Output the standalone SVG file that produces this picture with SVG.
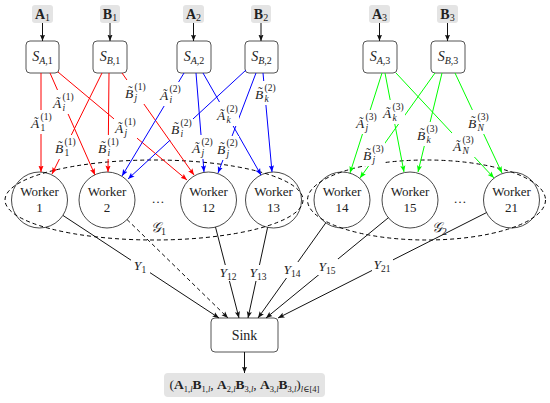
<svg xmlns="http://www.w3.org/2000/svg" width="550" height="403" viewBox="0 0 550 403">
<style>
text{font-family:"Liberation Serif","DejaVu Serif",serif;fill:#222}
.src rect{fill:#e4e4e4;stroke:none}
.src text{font-size:14px;text-anchor:middle}
.enc rect{fill:#fff;stroke:#555;stroke-width:1}
.enc text{font-size:14px;text-anchor:middle}
.wk circle{fill:none;stroke:#333;stroke-width:0.9}
.wk text{font-size:13px;text-anchor:middle}
.grp{fill:none;stroke:#000;stroke-width:1;stroke-dasharray:4 3}
.k{stroke:#111;stroke-width:1;fill:none;marker-end:url(#mk)}
.r{stroke:#f00;stroke-width:1;fill:none;marker-end:url(#mr)}
.b{stroke:#00f;stroke-width:1;fill:none;marker-end:url(#mb)}
.g{stroke:#0f0;stroke-width:1;fill:none;marker-end:url(#mg)}
.lab rect{fill:#fff}
.lab .m{font-size:13.5px;font-style:italic}
.lab .s{font-size:9.5px}
.i{font-style:italic}
.ylab{font-size:13.5px;text-anchor:middle}
</style>
<defs>
<marker id="mk" viewBox="0 0 10 10" refX="10" refY="5" markerWidth="6.5" markerHeight="6.5" orient="auto" markerUnits="userSpaceOnUse"><path d="M0,1 L10,5 L0,9 L2,5 z" fill="#111"/></marker>
<marker id="mr" viewBox="0 0 10 10" refX="10" refY="5" markerWidth="6.5" markerHeight="6.5" orient="auto" markerUnits="userSpaceOnUse"><path d="M0,1 L10,5 L0,9 L2,5 z" fill="#f00"/></marker>
<marker id="mb" viewBox="0 0 10 10" refX="10" refY="5" markerWidth="6.5" markerHeight="6.5" orient="auto" markerUnits="userSpaceOnUse"><path d="M0,1 L10,5 L0,9 L2,5 z" fill="#00f"/></marker>
<marker id="mg" viewBox="0 0 10 10" refX="10" refY="5" markerWidth="6.5" markerHeight="6.5" orient="auto" markerUnits="userSpaceOnUse"><path d="M0,1 L10,5 L0,9 L2,5 z" fill="#0f0"/></marker>
</defs>

<!-- sources -->
<g id="src-A1" class="src"><rect x="32" y="5" width="21" height="18" rx="3"/><text x="42.5" y="18.5"><tspan font-weight="bold">A</tspan><tspan font-size="10" dy="2">1</tspan></text></g>
<g id="src-B1" class="src"><rect x="100" y="5" width="20" height="18" rx="3"/><text x="110" y="18.5"><tspan font-weight="bold">B</tspan><tspan font-size="10" dy="2">1</tspan></text></g>
<g id="src-A2" class="src"><rect x="183" y="5" width="21" height="18" rx="3"/><text x="193.5" y="18.5"><tspan font-weight="bold">A</tspan><tspan font-size="10" dy="2">2</tspan></text></g>
<g id="src-B2" class="src"><rect x="251" y="5" width="20" height="18" rx="3"/><text x="261" y="18.5"><tspan font-weight="bold">B</tspan><tspan font-size="10" dy="2">2</tspan></text></g>
<g id="src-A3" class="src"><rect x="369" y="5" width="21" height="18" rx="3"/><text x="379.5" y="18.5"><tspan font-weight="bold">A</tspan><tspan font-size="10" dy="2">3</tspan></text></g>
<g id="src-B3" class="src"><rect x="437" y="5" width="21" height="18" rx="3"/><text x="447.5" y="18.5"><tspan font-weight="bold">B</tspan><tspan font-size="10" dy="2">3</tspan></text></g>

<!-- encoders -->
<g id="enc-SA1" class="enc"><rect x="26" y="41" width="33" height="32" rx="4"/><text x="42.5" y="61"><tspan class="i">S</tspan><tspan font-size="10" dy="3"><tspan class="i">A</tspan>,1</tspan></text></g>
<g id="enc-SB1" class="enc"><rect x="93" y="41" width="34" height="32" rx="4"/><text x="110" y="61"><tspan class="i">S</tspan><tspan font-size="10" dy="3"><tspan class="i">B</tspan>,1</tspan></text></g>
<g id="enc-SA2" class="enc"><rect x="177" y="41" width="34" height="32" rx="4"/><text x="194" y="61"><tspan class="i">S</tspan><tspan font-size="10" dy="3"><tspan class="i">A</tspan>,2</tspan></text></g>
<g id="enc-SB2" class="enc"><rect x="245" y="41" width="33" height="32" rx="4"/><text x="261.5" y="61"><tspan class="i">S</tspan><tspan font-size="10" dy="3"><tspan class="i">B</tspan>,2</tspan></text></g>
<g id="enc-SA3" class="enc"><rect x="363" y="41" width="34" height="32" rx="4"/><text x="380" y="61"><tspan class="i">S</tspan><tspan font-size="10" dy="3"><tspan class="i">A</tspan>,3</tspan></text></g>
<g id="enc-SB3" class="enc"><rect x="431" y="41" width="34" height="32" rx="4"/><text x="448" y="61"><tspan class="i">S</tspan><tspan font-size="10" dy="3"><tspan class="i">B</tspan>,3</tspan></text></g>

<!-- workers -->
<g id="w1" class="wk"><circle cx="39.5" cy="200" r="28"/><text x="39.5" y="196">Worker</text><text x="39.5" y="211.5">1</text></g>
<g id="w2" class="wk"><circle cx="107" cy="200" r="28"/><text x="107" y="196">Worker</text><text x="107" y="211.5">2</text></g>
<g id="w12" class="wk"><circle cx="208.5" cy="200" r="28"/><text x="208.5" y="196">Worker</text><text x="208.5" y="211.5">12</text></g>
<g id="w13" class="wk"><circle cx="273.5" cy="200" r="28"/><text x="273.5" y="196">Worker</text><text x="273.5" y="211.5">13</text></g>
<g id="w14" class="wk"><circle cx="342" cy="200" r="28"/><text x="342" y="196">Worker</text><text x="342" y="211.5">14</text></g>
<g id="w15" class="wk"><circle cx="410" cy="200" r="28"/><text x="410" y="196">Worker</text><text x="410" y="211.5">15</text></g>
<g id="w21" class="wk"><circle cx="511.5" cy="200" r="28"/><text x="511.5" y="196">Worker</text><text x="511.5" y="211.5">21</text></g>
<g id="dots1"><text x="158" y="203" font-size="13" text-anchor="middle">…</text></g>
<g id="dots2"><text x="460" y="203" font-size="13" text-anchor="middle">…</text></g>

<!-- groups -->
<g id="G1"><ellipse class="grp" cx="154" cy="200" rx="149" ry="40"/><text x="151" y="232" font-size="14"><tspan class="i">𝒢</tspan><tspan font-size="10" dy="3">1</tspan></text></g>
<g id="G2"><ellipse class="grp" cx="426.5" cy="200" rx="119" ry="40"/><text x="432" y="232" font-size="14"><tspan class="i">𝒢</tspan><tspan font-size="10" dy="3">2</tspan></text></g>

<!-- sink & output -->
<g id="sink" class="enc"><rect x="211" y="318" width="67" height="34" rx="4"/><text x="244.5" y="340" font-size="13">Sink</text></g>
<g id="out"><rect x="164" y="373" width="161" height="24" rx="4" fill="#e4e4e4"/><text x="244.5" y="389" font-size="13.5" text-anchor="middle">(<tspan font-weight="bold">A</tspan><tspan font-size="8.5" dy="2.5">1,<tspan class="i">l</tspan></tspan><tspan font-weight="bold" dy="-2.5">B</tspan><tspan font-size="8.5" dy="2.5">1,<tspan class="i">l</tspan></tspan><tspan dy="-2.5">, </tspan><tspan font-weight="bold">A</tspan><tspan font-size="8.5" dy="2.5">2,<tspan class="i">l</tspan></tspan><tspan font-weight="bold" dy="-2.5">B</tspan><tspan font-size="8.5" dy="2.5">3,<tspan class="i">l</tspan></tspan><tspan dy="-2.5">, </tspan><tspan font-weight="bold">A</tspan><tspan font-size="8.5" dy="2.5">3,<tspan class="i">l</tspan></tspan><tspan font-weight="bold" dy="-2.5">B</tspan><tspan font-size="8.5" dy="2.5">3,<tspan class="i">l</tspan></tspan><tspan dy="-2.5">)</tspan><tspan font-size="8.5" dy="3"><tspan class="i">l</tspan>∈[4]</tspan></text></g>

<!-- connectors -->
<g id="connectors">
<line class="k" x1="42.5" y1="23" x2="42.5" y2="41"/>
<line class="k" x1="110" y1="23" x2="110" y2="41"/>
<line class="k" x1="193.5" y1="23" x2="193.5" y2="41"/>
<line class="k" x1="261" y1="23" x2="261" y2="41"/>
<line class="k" x1="379.5" y1="23" x2="379.5" y2="41"/>
<line class="k" x1="447.5" y1="23" x2="447.5" y2="41"/>
<line class="k" x1="244.5" y1="352" x2="244.5" y2="373"/>

<!-- red -->
<line class="r" x1="41" y1="73" x2="41" y2="172"/>
<line class="r" x1="50" y1="73" x2="95" y2="175"/>
<line class="r" x1="58" y1="72" x2="187" y2="180"/>
<line class="r" x1="102" y1="73" x2="52" y2="174"/>
<line class="r" x1="109" y1="73" x2="108" y2="172"/>
<line class="r" x1="122" y1="73" x2="194" y2="175"/>
<!-- blue -->
<line class="b" x1="184" y1="73" x2="122" y2="176"/>
<line class="b" x1="246" y1="70" x2="128" y2="179"/>
<line class="b" x1="196" y1="73" x2="204" y2="172"/>
<line class="b" x1="203" y1="73" x2="261" y2="175"/>
<line class="b" x1="256" y1="73" x2="218" y2="173"/>
<line class="b" x1="263" y1="73" x2="272" y2="172"/>
<!-- green -->
<line class="g" x1="382" y1="73" x2="350" y2="173"/>
<line class="g" x1="385" y1="73" x2="404" y2="172"/>
<line class="g" x1="396" y1="73" x2="494" y2="178"/>
<line class="g" x1="435" y1="73" x2="360" y2="178"/>
<line class="g" x1="442" y1="73" x2="418" y2="172"/>
<line class="g" x1="455" y1="73" x2="502" y2="173"/>

<!-- to sink -->
<line class="k" x1="62.9" y1="215.4" x2="219" y2="318"/>
<line class="k" x1="127" y1="219.5" x2="228" y2="318" stroke-dasharray="4 3"/>
<line class="k" x1="215.5" y1="227.1" x2="239" y2="318"/>
<line class="k" x1="267.6" y1="227.4" x2="248" y2="318"/>
<line class="k" x1="325.8" y1="222.8" x2="258" y2="318"/>
<line class="k" x1="388.4" y1="217.7" x2="266" y2="318"/>
<line class="k" x1="486.5" y1="212.6" x2="278" y2="318"/>

<!-- Y labels -->
<g class="lab"><rect x="131" y="258" width="19" height="16"/><text class="ylab" x="140" y="270"><tspan class="i">Y</tspan><tspan font-size="9.5" dy="2.5">1</tspan></text></g>
<g class="lab"><rect x="218" y="265" width="21" height="16"/><text class="ylab" x="228" y="277"><tspan class="i">Y</tspan><tspan font-size="9.5" dy="2.5">12</tspan></text></g>
<g class="lab"><rect x="248" y="265" width="21" height="16"/><text class="ylab" x="258" y="277"><tspan class="i">Y</tspan><tspan font-size="9.5" dy="2.5">13</tspan></text></g>
<g class="lab"><rect x="282" y="262" width="21" height="16"/><text class="ylab" x="292" y="274"><tspan class="i">Y</tspan><tspan font-size="9.5" dy="2.5">14</tspan></text></g>
<g class="lab"><rect x="317" y="259" width="21" height="16"/><text class="ylab" x="327" y="271"><tspan class="i">Y</tspan><tspan font-size="9.5" dy="2.5">15</tspan></text></g>
<g class="lab"><rect x="372" y="257" width="21" height="16"/><text class="ylab" x="382" y="269"><tspan class="i">Y</tspan><tspan font-size="9.5" dy="2.5">21</tspan></text></g>

<!-- coded-share labels -->
<g class="lab" transform="translate(41,123)"><rect x="-11" y="-13" width="23" height="24"/><text class="m" x="-10" y="4.5">Ã</text><text class="s" x="-0.5" y="-3.5">(1)</text><text class="s" x="-0.5" y="7.5">1</text></g>
<g class="lab" transform="translate(63,103)"><rect x="-11" y="-13" width="23" height="24"/><text class="m" x="-10" y="4.5">Ã</text><text class="s" x="-0.5" y="-3.5">(1)</text><text class="s i" x="-0.5" y="7.5">i</text></g>
<g class="lab" transform="translate(125,128)"><rect x="-11" y="-13" width="23" height="24"/><text class="m" x="-10" y="4.5">Ã</text><text class="s" x="-0.5" y="-3.5">(1)</text><text class="s i" x="-0.5" y="7.5">j</text></g>
<g class="lab" transform="translate(65,148)"><rect x="-11" y="-13" width="23" height="24"/><text class="m" x="-10" y="4.5">B̃</text><text class="s" x="-0.5" y="-3.5">(1)</text><text class="s" x="-0.5" y="7.5">1</text></g>
<g class="lab" transform="translate(108,148)"><rect x="-11" y="-13" width="23" height="24"/><text class="m" x="-10" y="4.5">B̃</text><text class="s" x="-0.5" y="-3.5">(1)</text><text class="s i" x="-0.5" y="7.5">i</text></g>
<g class="lab" transform="translate(135,93)"><rect x="-11" y="-13" width="23" height="24"/><text class="m" x="-10" y="4.5">B̃</text><text class="s" x="-0.5" y="-3.5">(1)</text><text class="s i" x="-0.5" y="7.5">j</text></g>

<g class="lab" transform="translate(170,95)"><rect x="-11" y="-13" width="23" height="24"/><text class="m" x="-10" y="4.5">Ã</text><text class="s" x="-0.5" y="-3.5">(2)</text><text class="s i" x="-0.5" y="7.5">i</text></g>
<g class="lab" transform="translate(181,129)"><rect x="-11" y="-13" width="23" height="24"/><text class="m" x="-10" y="4.5">B̃</text><text class="s" x="-0.5" y="-3.5">(2)</text><text class="s i" x="-0.5" y="7.5">i</text></g>
<g class="lab" transform="translate(202,148)"><rect x="-11" y="-13" width="23" height="24"/><text class="m" x="-10" y="4.5">Ã</text><text class="s" x="-0.5" y="-3.5">(2)</text><text class="s i" x="-0.5" y="7.5">j</text></g>
<g class="lab" transform="translate(227,115)"><rect x="-11" y="-13" width="23" height="24"/><text class="m" x="-10" y="4.5">Ã</text><text class="s" x="-0.5" y="-3.5">(2)</text><text class="s i" x="-0.5" y="7.5">k</text></g>
<g class="lab" transform="translate(227,149)"><rect x="-11" y="-13" width="23" height="24"/><text class="m" x="-10" y="4.5">B̃</text><text class="s" x="-0.5" y="-3.5">(2)</text><text class="s i" x="-0.5" y="7.5">j</text></g>
<g class="lab" transform="translate(265,94)"><rect x="-11" y="-13" width="23" height="24"/><text class="m" x="-10" y="4.5">B̃</text><text class="s" x="-0.5" y="-3.5">(2)</text><text class="s i" x="-0.5" y="7.5">k</text></g>

<g class="lab" transform="translate(366,123)"><rect x="-11" y="-13" width="23" height="24"/><text class="m" x="-10" y="4.5">Ã</text><text class="s" x="-0.5" y="-3.5">(3)</text><text class="s i" x="-0.5" y="7.5">j</text></g>
<g class="lab" transform="translate(393,113)"><rect x="-11" y="-13" width="23" height="24"/><text class="m" x="-10" y="4.5">Ã</text><text class="s" x="-0.5" y="-3.5">(3)</text><text class="s i" x="-0.5" y="7.5">k</text></g>
<g class="lab" transform="translate(463,146)"><rect x="-11" y="-13" width="24" height="24"/><text class="m" x="-10" y="4.5">Ã</text><text class="s" x="-0.5" y="-3.5">(3)</text><text class="s i" x="-0.5" y="7.5">N</text></g>
<g class="lab" transform="translate(373,155)"><rect x="-11" y="-13" width="23" height="24"/><text class="m" x="-10" y="4.5">B̃</text><text class="s" x="-0.5" y="-3.5">(3)</text><text class="s i" x="-0.5" y="7.5">j</text></g>
<g class="lab" transform="translate(427,135)"><rect x="-11" y="-13" width="23" height="24"/><text class="m" x="-10" y="4.5">B̃</text><text class="s" x="-0.5" y="-3.5">(3)</text><text class="s i" x="-0.5" y="7.5">k</text></g>
<g class="lab" transform="translate(478,123)"><rect x="-11" y="-13" width="24" height="24"/><text class="m" x="-10" y="4.5">B̃</text><text class="s" x="-0.5" y="-3.5">(3)</text><text class="s i" x="-0.5" y="7.5">N</text></g>
</g>
</svg>
